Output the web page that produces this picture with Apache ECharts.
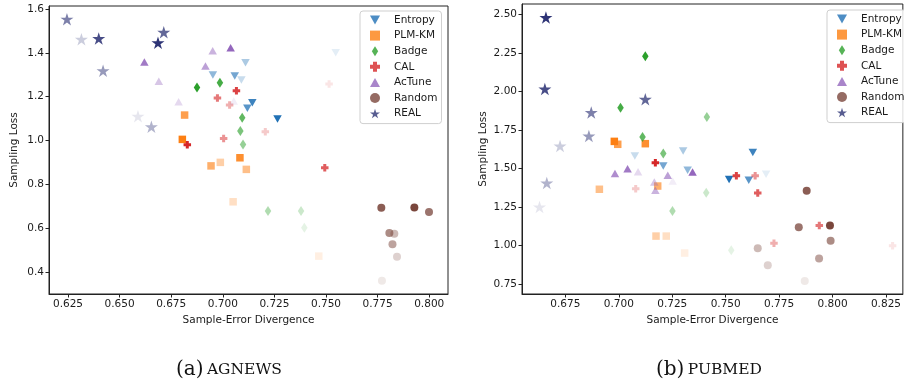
<!DOCTYPE html>
<html>
<head>
<meta charset="utf-8">
<script src="https://cdn.jsdelivr.net/npm/echarts@6/dist/echarts.min.js"></script>
<style>
html, body { margin: 0; padding: 0; background: #fff; }
#main { width: 904px; height: 383px; }
</style>
</head>
<body>
<div id="main"></div>
<script>
// each point: [sample-error divergence, sampling loss, round]  (round 1 = lightest ... 8 = darkest)
var methods = ['Entropy', 'PLM-KM', 'Badge', 'CAL', 'AcTune', 'Random', 'REAL'];

// (a) AGNEWS
var agEntropy = [[0.7547,1.400,1],[0.7090,1.276,2],[0.7110,1.355,3],[0.6952,1.299,4],[0.7058,1.294,5],[0.7119,1.147,6],[0.7143,1.172,7],[0.7265,1.098,8]];
var agPlmKm   = [[0.7465,0.472,1],[0.7050,0.720,2],[0.6988,0.900,3],[0.7114,0.868,4],[0.6943,0.884,5],[0.6815,1.116,6],[0.7083,0.921,7],[0.6804,1.005,8]];
var agBadge   = [[0.7395,0.601,1],[0.7379,0.678,2],[0.7219,0.678,3],[0.7098,0.982,4],[0.7085,1.043,5],[0.7094,1.104,6],[0.6986,1.264,7],[0.6875,1.242,8]];
var agCal     = [[0.7515,1.258,1],[0.7206,1.040,2],[0.7033,1.162,3],[0.7004,1.009,4],[0.6974,1.194,5],[0.7494,0.875,6],[0.7066,1.227,7],[0.6828,0.980,8]];
var agAcTune  = [[0.7053,1.180,1],[0.6786,1.177,2],[0.6690,1.270,3],[0.6951,1.410,4],[0.6916,1.340,5],[0.6620,1.358,7],[0.7038,1.423,8]];
var agRandom  = [[0.7771,0.359,1],[0.7844,0.469,2],[0.7831,0.574,3],[0.7822,0.526,4],[0.7807,0.577,5],[0.7999,0.673,6],[0.7768,0.693,7],[0.7928,0.694,8]];
var agReal    = [[0.6589,1.111,1],[0.6315,1.462,2],[0.6654,1.063,3],[0.6420,1.318,4],[0.6245,1.554,5],[0.6714,1.494,6],[0.6399,1.466,7],[0.6686,1.446,8]];

// (b) PUBMED
var pmEntropy = [[0.7689,1.463,1],[0.7075,1.582,2],[0.7301,1.614,3],[0.7322,1.489,4],[0.7208,1.517,5],[0.7608,1.424,6],[0.7627,1.604,7],[0.7516,1.429,8]];
var pmPlmKm   = [[0.7308,0.952,1],[0.7222,1.062,2],[0.7174,1.062,3],[0.6909,1.366,4],[0.7182,1.387,5],[0.6995,1.658,6],[0.7124,1.662,7],[0.6979,1.677,8]];
var pmBadge   = [[0.7526,0.970,1],[0.7409,1.344,2],[0.7251,1.225,3],[0.7412,1.835,4],[0.7208,1.599,5],[0.7111,1.705,6],[0.7008,1.896,7],[0.7124,2.229,8]];
var pmCal     = [[0.8281,1.000,1],[0.7079,1.370,2],[0.7726,1.015,3],[0.7638,1.454,4],[0.7938,1.130,5],[0.7650,1.342,6],[0.7550,1.454,7],[0.7171,1.539,8]];
var pmAcTune  = [[0.7252,1.420,1],[0.7090,1.480,2],[0.7166,1.413,3],[0.7171,1.359,4],[0.7229,1.457,5],[0.6982,1.469,6],[0.7041,1.500,7],[0.7345,1.478,8]];
var pmRandom  = [[0.7870,0.770,1],[0.7697,0.872,2],[0.7650,0.983,3],[0.7937,0.916,4],[0.7991,1.032,5],[0.7842,1.119,6],[0.7879,1.357,7],[0.7988,1.130,8]];
var pmReal    = [[0.6629,1.251,1],[0.6725,1.647,2],[0.6663,1.407,3],[0.6860,1.712,4],[0.6871,1.864,5],[0.7124,1.950,6],[0.6654,2.017,7],[0.6659,2.481,8]];

var agXTicks = [0.625, 0.65, 0.675, 0.7, 0.725, 0.75, 0.775, 0.8];
var agYTicks = [0.4, 0.6, 0.8, 1.0, 1.2, 1.4, 1.6];
var pmXTicks = [0.675, 0.7, 0.725, 0.75, 0.775, 0.8, 0.825];
var pmYTicks = [0.75, 1.0, 1.25, 1.5, 1.75, 2.0, 2.25, 2.5];

var agData = [agEntropy, agPlmKm, agBadge, agCal, agAcTune, agRandom, agReal];
var pmData = [pmEntropy, pmPlmKm, pmBadge, pmCal, pmAcTune, pmRandom, pmReal];

var colors = {
    'Entropy': '#2171b5',
    'PLM-KM': '#fd7f12',
    'Badge': '#2ca02c',
    'CAL': '#d62728',
    'AcTune': '#9467bd',
    'Random': '#7a463c',
    'REAL': '#2e3476'
};
var starPath = 'path://M50,0L61.17,34.63L97.55,34.55L68.07,55.87L79.39,90.45L50,69L20.61,90.45L31.93,55.87L2.45,34.55L38.83,34.63Z';
var symbols = {
    'Entropy': 'path://M0,0L10,0L5,9Z',
    'PLM-KM': 'rect',
    'Badge': 'path://M3.5,0L7,5.5L3.5,11L0,5.5Z',
    'CAL': 'path://M3,0H7V3H10V7H7V10H3V7H0V3H3Z',
    'AcTune': 'path://M5,0L10,9L0,9Z',
    'Random': 'circle',
    'REAL': starPath
};
var sizes = {
    'Entropy': [8.5, 7.5],
    'PLM-KM': 7.5,
    'Badge': [6.5, 10],
    'CAL': 7.5,
    'AcTune': [8.5, 7.5],
    'Random': 8,
    'REAL': [13, 12.5]
};

function shade(r) {
    return 0.12 + (r - 1) / 7 * 0.88;
}

function makeSeries(name, data, idx) {
    return {
        name: name,
        type: 'scatter',
        xAxisIndex: idx,
        yAxisIndex: idx,
        symbol: symbols[name],
        symbolSize: sizes[name],
        itemStyle: { color: colors[name] },
        emphasis: { disabled: true },
        data: data.map(function (d) {
            return { value: [d[0], d[1]], itemStyle: { opacity: shade(d[2]) } };
        })
    };
}

var series = [];
methods.forEach(function (m, i) { series.push(makeSeries(m, agData[i], 0)); });
methods.forEach(function (m, i) { series.push(makeSeries(m, pmData[i], 1)); });

var font = 'DejaVu Sans';
var tickColor = '#1a1a1a';

function xAxisOf(idx, min, max, ticks) {
    return {
        type: 'value', gridIndex: idx, min: min, max: max,
        axisLine: { show: true, onZero: false, lineStyle: { color: '#222', width: 1 } },
        axisTick: { show: true, length: 3.5, customValues: ticks, lineStyle: { color: '#222' } },
        axisLabel: {
            customValues: ticks, margin: 5, fontSize: 10.5, fontFamily: font, color: tickColor,
            formatter: function (v) { return v.toFixed(3); }
        },
        splitLine: { show: false },
        name: 'Sample-Error Divergence', nameLocation: 'middle', nameGap: 21,
        nameTextStyle: { fontSize: 10.5, fontFamily: font, color: tickColor }
    };
}
function yAxisOf(idx, min, max, ticks, digits, gap) {
    return {
        type: 'value', gridIndex: idx, min: min, max: max,
        axisLine: { show: true, onZero: false, lineStyle: { color: '#222', width: 1 } },
        axisTick: { show: true, length: 3.5, customValues: ticks, lineStyle: { color: '#222' } },
        axisLabel: {
            customValues: ticks, margin: 5, fontSize: 10.5, fontFamily: font, color: tickColor,
            formatter: function (v) { return v.toFixed(digits); }
        },
        splitLine: { show: false },
        name: 'Sampling Loss', nameLocation: 'middle', nameGap: gap,
        nameTextStyle: { fontSize: 10.5, fontFamily: font, color: tickColor }
    };
}

function legendAt(left, top) {
    return {
        left: left, top: top, orient: 'vertical',
        data: methods.map(function (m) { return { name: m, icon: symbols[m] }; }),
        itemWidth: 10, itemHeight: 10, itemGap: 3.6,
        symbolKeepAspect: true,
        padding: [3, 4, 4, 10],
        borderColor: '#cfcfcf', borderWidth: 1, borderRadius: 3,
        backgroundColor: 'rgba(255,255,255,0.85)',
        selectedMode: false,
        textStyle: { fontSize: 10.5, fontFamily: font, color: tickColor, lineHeight: 12, padding: [0, 0, 0, 9] }
    };
}

var captionRich = {
    p: { fontFamily: 'DejaVu Serif', fontSize: 20, fill: '#111' },
    c: { fontFamily: 'DejaVu Serif', fontSize: 15.5, fill: '#111' }
};

var myChart = echarts.init(document.getElementById('main'), null, { renderer: 'canvas' });
var option = {
    animation: false,
    grid: [
        { left: 49, top: 6, width: 399, height: 288, show: true, borderColor: '#222', borderWidth: 1, backgroundColor: 'transparent' },
        { left: 522, top: 4, right: -2, height: 290, show: true, borderColor: '#222', borderWidth: 1, backgroundColor: 'transparent' }
    ],
    xAxis: [
        xAxisOf(0, 0.6158, 0.8091, agXTicks),
        xAxisOf(1, 0.6547, 0.8329, pmXTicks)
    ],
    yAxis: [
        yAxisOf(0, 0.299, 1.614, agYTicks, 1, 29),
        yAxisOf(1, 0.686, 2.569, pmYTicks, 2, 33)
    ],
    legend: [legendAt(360, 11), legendAt(827, 10)],
    // captions centered under each panel
    graphic: [
        { type: 'text', x: 229, y: 370, style: { text: '{p|(a)} {c|AGNEWS}', align: 'center', verticalAlign: 'middle', rich: captionRich } },
        { type: 'text', x: 709, y: 370, style: { text: '{p|(b)} {c|PUBMED}', align: 'center', verticalAlign: 'middle', rich: captionRich } }
    ],
    series: series
};
myChart.setOption(option);
</script>
</body>
</html>
